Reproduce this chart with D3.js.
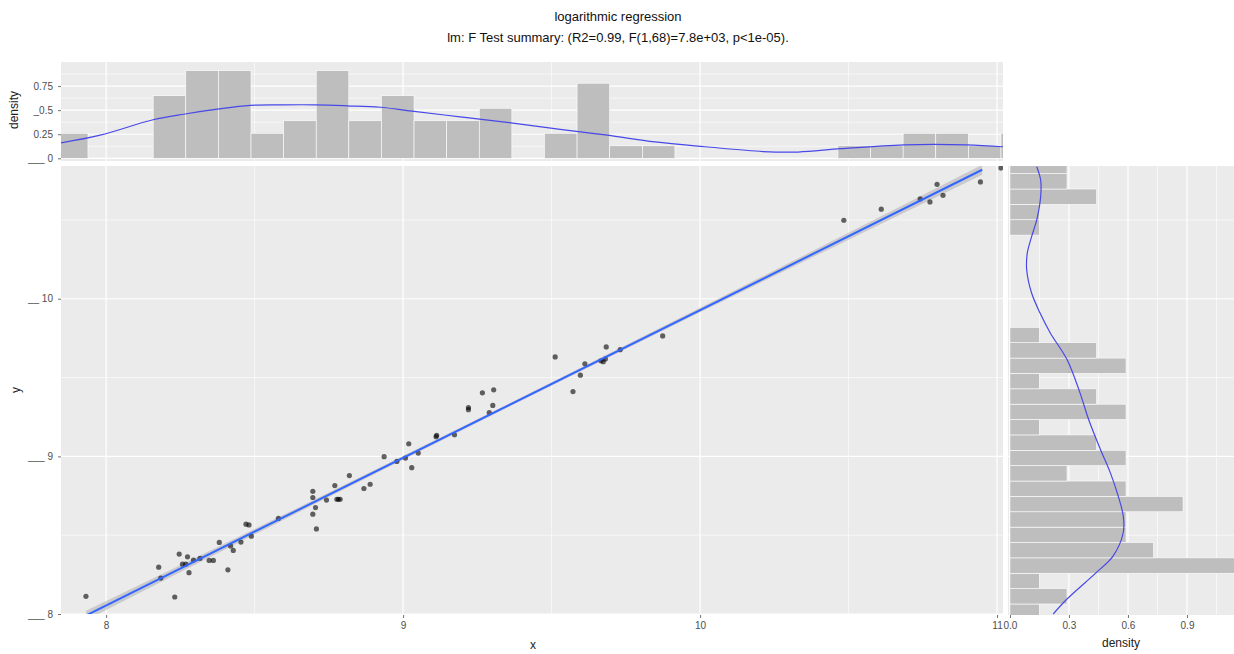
<!DOCTYPE html>
<html>
<head>
<meta charset="utf-8">
<script src="https://cdn.jsdelivr.net/npm/d3@7"></script>
<style>
  body { margin: 0; background: #fff; }
  text { font-family: "Liberation Sans", Arial, sans-serif; }
</style>
</head>
<body>
<script>
// scatter points (x, y)
var pointX = [7.884, 7.932, 8.177, 8.184, 8.231, 8.246, 8.257, 8.268, 8.274, 8.279, 8.294, 8.316, 8.347, 8.361,
  8.381, 8.410, 8.419, 8.428, 8.454, 8.471, 8.481, 8.489, 8.580, 8.696, 8.696, 8.705, 8.696, 8.708, 8.742,
  8.770, 8.777, 8.782, 8.788, 8.819, 8.868, 8.889, 8.936, 8.979, 9.008, 9.019, 9.029, 9.051, 9.111, 9.113,
  9.173, 9.220, 9.220, 9.267, 9.305, 9.302, 9.290, 9.512, 9.572, 9.597, 9.612, 9.666, 9.674, 9.681, 9.684,
  9.731, 9.874, 10.484, 10.610, 10.741, 10.774, 10.798, 10.818, 10.944, 11.013, 11.067];
var pointY = [7.975, 8.112, 8.297, 8.228, 8.108, 8.380, 8.316, 8.316, 8.363, 8.262, 8.342, 8.353, 8.340, 8.340,
  8.454, 8.280, 8.432, 8.403, 8.456, 8.570, 8.565, 8.494, 8.606, 8.778, 8.739, 8.675, 8.633, 8.540, 8.723,
  8.815, 8.728, 8.728, 8.728, 8.878, 8.796, 8.823, 8.998, 8.968, 8.989, 9.080, 8.928, 9.021, 9.125, 9.133,
  9.137, 9.310, 9.296, 9.403, 9.422, 9.323, 9.277, 9.631, 9.411, 9.515, 9.587, 9.606, 9.601, 9.618, 9.694,
  9.677, 9.764, 10.498, 10.568, 10.633, 10.614, 10.726, 10.656, 10.741, 10.829, 10.845];

// fitted line and its confidence band
var fitIntercept = 0.558, fitSlope = 0.937;
var fitRange = [7.932, 10.95];
var bandX = [7.932, 8.6, 9.3, 10.0, 10.5, 10.95];
var bandHalf = [0.03, 0.016, 0.011, 0.014, 0.022, 0.032];

// top marginal histogram (x), 30 bins
var xHistStart = 7.829, xHistWidth = 0.1098;
var xHistDensity = [0.26, 0, 0, 0.65, 0.91, 0.91, 0.26, 0.39, 0.91, 0.39, 0.65, 0.39, 0.39, 0.52, 0,
  0.26, 0.78, 0.13, 0.13, 0, 0, 0, 0, 0, 0.13, 0.13, 0.26, 0.26, 0.13, 0.26];
var xDensAt = [7.848, 7.98, 8.158, 8.266, 8.374, 8.485, 8.596, 8.704, 8.811, 8.923, 9.03, 9.192, 9.357,
  9.529, 9.687, 9.848, 10.017, 10.212, 10.33, 10.475, 10.687, 10.896, 11.02];
var xDensVal = [0.16, 0.24, 0.40, 0.46, 0.51, 0.55, 0.555, 0.555, 0.545, 0.53, 0.49, 0.43, 0.37, 0.30,
  0.24, 0.17, 0.12, 0.07, 0.065, 0.10, 0.14, 0.14, 0.12];

// right marginal histogram (y), 30 bins from bottom
var yHistStart = 7.966, yHistWidth = 0.0975;
var yHistDensity = [0.15, 0.29, 0.15, 1.17, 0.73, 0.59, 0.59, 0.88, 0.59, 0.29, 0.59, 0.44, 0.15, 0.59,
  0.44, 0.15, 0.59, 0.44, 0.15, 0, 0, 0, 0, 0, 0, 0.15, 0.15, 0.44, 0.29, 0.29];
var yDensAt = [8.0, 8.095, 8.264, 8.369, 8.517, 8.622, 8.749, 8.897, 9.044, 9.234, 9.403, 9.614, 9.783,
  9.909, 10.036, 10.184, 10.289, 10.394, 10.5, 10.647, 10.753, 10.837];
var yDensVal = [0.22, 0.29, 0.44, 0.525, 0.576, 0.576, 0.55, 0.51, 0.46, 0.40, 0.356, 0.29, 0.205,
  0.153, 0.11, 0.085, 0.088, 0.11, 0.136, 0.156, 0.156, 0.136];

// ticks and grid
var xMajor = [8, 9, 10, 11], xMinor = [8.5, 9.5, 10.5];
var xTickLabels = ["8", "9", "10", "11"];
var yMajor = [8, 9, 10], yMinor = [8.5, 9.5, 10.5];
var yTickLabels = ["___ 8", "___ 9", "__ 10"];
var topMajor = [0, 0.25, 0.5, 0.75], topMinor = [0.125, 0.375, 0.625, 0.875];
var topTickLabels = ["___ 0", "0.25", "_0.5", "0.75"];
var rightMajor = [0, 0.3, 0.6, 0.9], rightMinor = [0.15, 0.45, 0.75, 1.05];
var rightTickLabels = ["0.0", "0.3", "0.6", "0.9"];

var svg = d3.select("body").append("svg").attr("width", 1234).attr("height", 654);

var x = d3.scaleLinear().domain([7.848, 11.02]).range([61, 1003]);
var y = d3.scaleLinear().domain([8.0, 10.842]).range([614, 166]);
var yTop = d3.scaleLinear().domain([-0.028, 1.0]).range([161, 62]);
var xRight = d3.scaleLinear().domain([-0.01, 1.139]).range([1008, 1234]);

var defs = svg.append("defs");
function clip(id, x0, y0, w, h) {
  defs.append("clipPath").attr("id", id).append("rect")
    .attr("x", x0).attr("y", y0).attr("width", w).attr("height", h);
}
clip("clipMain", 61, 166, 942, 448);
clip("clipTop", 61, 62, 942, 99);
clip("clipRight", 1008, 166, 226, 449);

// backgrounds
svg.append("rect").attr("x", 61).attr("y", 166).attr("width", 942).attr("height", 448).attr("fill", "#ebebeb");
svg.append("rect").attr("x", 61).attr("y", 62).attr("width", 942).attr("height", 99).attr("fill", "#ebebeb");
svg.append("rect").attr("x", 1008).attr("y", 166).attr("width", 226).attr("height", 449).attr("fill", "#ebebeb");

function vgrid(g, vals, sc, y0, y1, w) {
  g.selectAll(null).data(vals).enter().append("line")
    .attr("x1", (d) => sc(d)).attr("x2", (d) => sc(d))
    .attr("y1", y0).attr("y2", y1)
    .attr("stroke", "#fff").attr("stroke-width", w);
}
function hgrid(g, vals, sc, x0, x1, w) {
  g.selectAll(null).data(vals).enter().append("line")
    .attr("y1", (d) => sc(d)).attr("y2", (d) => sc(d))
    .attr("x1", x0).attr("x2", x1)
    .attr("stroke", "#fff").attr("stroke-width", w);
}

// main panel
var mainPanel = svg.append("g").attr("clip-path", "url(#clipMain)");
vgrid(mainPanel, xMinor, x, 166, 614, 0.6);
hgrid(mainPanel, yMinor, y, 61, 1003, 0.6);
vgrid(mainPanel, xMajor, x, 166, 614, 1.2);
hgrid(mainPanel, yMajor, y, 61, 1003, 1.2);

var band = d3.area()
  .x((d) => x(d))
  .y0((d, i) => y(fitIntercept + fitSlope * d - bandHalf[i]))
  .y1((d, i) => y(fitIntercept + fitSlope * d + bandHalf[i]))
  .curve(d3.curveMonotoneX);
mainPanel.append("path").datum(bandX).attr("d", band).attr("fill", "#999").attr("opacity", 0.4);

mainPanel.selectAll("circle").data(pointX).enter().append("circle")
  .attr("cx", (d) => x(d))
  .attr("cy", (d, i) => y(pointY[i]))
  .attr("r", 2.6)
  .attr("fill", "#000")
  .attr("opacity", 0.6);

mainPanel.append("line")
  .attr("x1", x(fitRange[0])).attr("y1", y(fitIntercept + fitSlope * fitRange[0]))
  .attr("x2", x(fitRange[1])).attr("y2", y(fitIntercept + fitSlope * fitRange[1]))
  .attr("stroke", "#3366ff").attr("stroke-width", 2);

// top histogram
var topPanel = svg.append("g").attr("clip-path", "url(#clipTop)");
vgrid(topPanel, xMinor, x, 62, 161, 0.6);
hgrid(topPanel, topMinor, yTop, 61, 1003, 0.6);
vgrid(topPanel, xMajor, x, 62, 161, 1.2);
hgrid(topPanel, topMajor, yTop, 61, 1003, 1.2);

topPanel.selectAll("rect.bar").data(xHistDensity).enter()
  .append("rect")
  .attr("class", "bar")
  .attr("x", (d, i) => x(xHistStart + i * xHistWidth))
  .attr("width", (d, i) => x(xHistStart + (i + 1) * xHistWidth) - x(xHistStart + i * xHistWidth))
  .attr("y", (d) => yTop(d))
  .attr("height", (d) => yTop(0) - yTop(d))
  .attr("fill", "#bebebe")
  .attr("stroke", (d) => (d > 0 ? "#fff" : "none"))
  .attr("stroke-width", 0.6);

topPanel.append("path")
  .datum(xDensAt)
  .attr("d", d3.line().x((d) => x(d)).y((d, i) => yTop(xDensVal[i])).curve(d3.curveCatmullRom))
  .attr("fill", "none").attr("stroke", "#4848e8").attr("stroke-width", 1.2);

// right histogram
var rightPanel = svg.append("g").attr("clip-path", "url(#clipRight)");
vgrid(rightPanel, rightMinor, xRight, 166, 615, 0.6);
hgrid(rightPanel, yMinor, y, 1008, 1234, 0.6);
vgrid(rightPanel, rightMajor, xRight, 166, 615, 1.2);
hgrid(rightPanel, yMajor.slice(1), y, 1008, 1234, 1.2);

rightPanel.selectAll("rect.bar").data(yHistDensity).enter()
  .append("rect")
  .attr("class", "bar")
  .attr("x", xRight(0))
  .attr("width", (d) => xRight(d) - xRight(0))
  .attr("y", (d, i) => y(yHistStart + (i + 1) * yHistWidth))
  .attr("height", (d, i) => y(yHistStart + i * yHistWidth) - y(yHistStart + (i + 1) * yHistWidth))
  .attr("fill", "#bebebe")
  .attr("stroke", (d) => (d > 0 ? "#fff" : "none"))
  .attr("stroke-width", 0.6);

rightPanel.append("path")
  .datum(yDensAt)
  .attr("d", d3.line().y((d) => y(d)).x((d, i) => xRight(yDensVal[i])).curve(d3.curveCatmullRom))
  .attr("fill", "none").attr("stroke", "#4848e8").attr("stroke-width", 1.2);

// axes
function styleAxis(g) {
  g.select(".domain").remove();
  g.selectAll(".tick line").attr("stroke", "#4d4d4d").attr("stroke-width", 0.8);
  g.selectAll(".tick text").attr("fill", "#4d4d4d").style("font-size", "10px")
    .style("font-family", '"Liberation Sans", Arial, sans-serif');
}

svg.append("g").attr("transform", "translate(0,615)")
  .call(d3.axisBottom(x).tickValues(xMajor).tickSize(3).tickPadding(4)
    .tickFormat((d, i) => xTickLabels[i]))
  .call(styleAxis);

svg.append("g").attr("transform", "translate(61,0)")
  .call(d3.axisLeft(y).tickValues(yMajor).tickSize(3).tickPadding(5)
    .tickFormat((d, i) => yTickLabels[i]))
  .call(styleAxis);

svg.append("g").attr("transform", "translate(61,0)")
  .call(d3.axisLeft(yTop).tickValues(topMajor).tickSize(3).tickPadding(5)
    .tickFormat((d, i) => topTickLabels[i]))
  .call(styleAxis);

svg.append("g").attr("transform", "translate(0,615)")
  .call(d3.axisBottom(xRight).tickValues(rightMajor).tickSize(3).tickPadding(4)
    .tickFormat((d, i) => rightTickLabels[i]))
  .call(styleAxis);

// titles
svg.append("text").attr("x", 533).attr("y", 649).attr("text-anchor", "middle")
  .style("font-size", "12px").attr("fill", "#222").text("x");
svg.append("text").attr("x", 1121).attr("y", 647).attr("text-anchor", "middle")
  .style("font-size", "12px").attr("fill", "#222").text("density");
svg.append("text").attr("transform", "translate(20,390) rotate(-90)").attr("text-anchor", "middle")
  .style("font-size", "12px").attr("fill", "#222").text("y");
svg.append("text").attr("transform", "translate(18,110) rotate(-90)").attr("text-anchor", "middle")
  .style("font-size", "12px").attr("fill", "#222").text("density");

svg.append("text").attr("x", 618).attr("y", 21).attr("text-anchor", "middle")
  .style("font-size", "13px").attr("fill", "#111").text("logarithmic regression");
svg.append("text").attr("x", 618).attr("y", 42).attr("text-anchor", "middle")
  .style("font-size", "13px").attr("fill", "#111")
  .text("lm: F Test summary: (R2=0.99, F(1,68)=7.8e+03, p<1e-05).");
</script>
</body>
</html>
